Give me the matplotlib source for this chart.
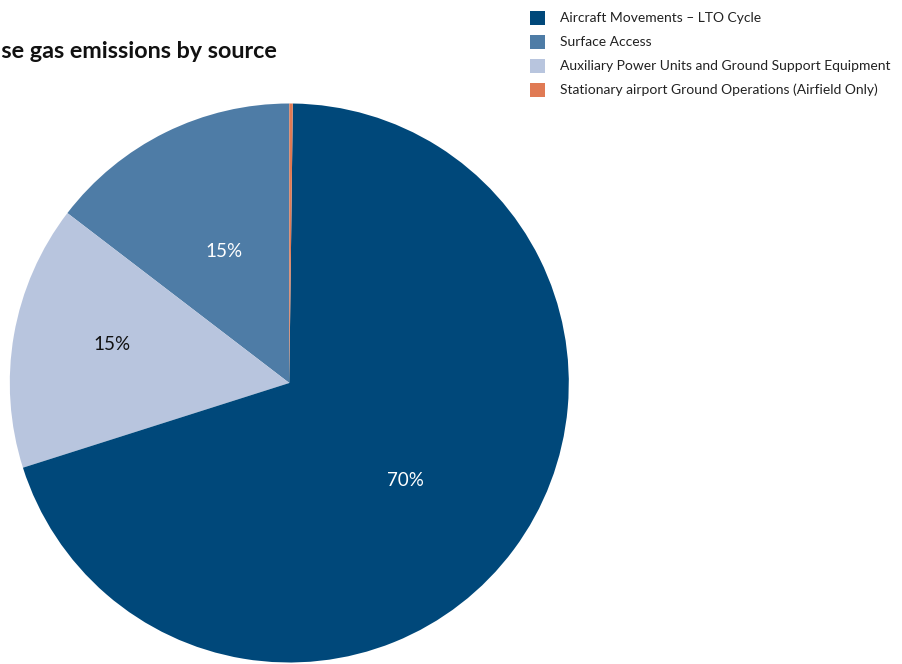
import matplotlib
matplotlib.use("Agg")
import matplotlib.pyplot as plt
import numpy as np
from matplotlib.patches import Rectangle

plt.rcParams['font.family'] = ['Lato', 'DejaVu Sans']

# Emission shares (%) by source, in legend order
categories = [
    "Aircraft Movements – LTO Cycle",
    "Surface Access",
    "Auxiliary Power Units and Ground Support Equipment",
    "Stationary airport Ground Operations (Airfield Only)",
]
shares = [69.9, 14.6, 15.3, 0.2]
colors = ["#00487A", "#4E7CA6", "#B8C5DE", "#E07A54"]
label_colors = ["white", "white", "#111111", "white"]
title = "Greenhouse gas emissions by source"

W, H = 902, 664
fig = plt.figure(figsize=(W / 100, H / 100), dpi=100)

# Pie drawn counter-clockwise from 12 o'clock: Surface, APU, Aircraft, Stationary
draw_order = [1, 2, 0, 3]
cx, cy, r = 289.3, 383.0, 279.5
ax = fig.add_axes([(cx - r) / W, (H - cy - r) / H, 2 * r / W, 2 * r / H])
wedges, _ = ax.pie([shares[i] for i in draw_order],
                   colors=[colors[i] for i in draw_order],
                   startangle=90, counterclock=True, radius=1.0,
                   wedgeprops=dict(linewidth=0))
ax.set_xlim(-1, 1)
ax.set_ylim(-1, 1)
ax.set_aspect('equal')
ax.axis('off')

# Percentage labels placed inside the wedges (radius fraction, angle nudge in degrees)
label_pos = {0: (0.543, -3.6), 1: (0.524, 0.0), 2: (0.649, -2.3)}
for w, i in zip(wedges, draw_order):
    if i not in label_pos:
        continue
    d, nudge = label_pos[i]
    mid = np.deg2rad((w.theta1 + w.theta2) / 2 + nudge)
    ax.text(d * np.cos(mid), d * np.sin(mid), f"{shares[i]:.0f}%",
            ha='center', va='center', fontsize=13.5, color=label_colors[i])

# Title (right-aligned, running off the left edge)
fig.text(277 / W, 1 - 51 / H, title, ha='right', va='center',
         fontsize=16.8, fontweight='bold', color='#111111')

# Legend
for k, (name, col) in enumerate(zip(categories, colors)):
    yc = 18 + 24 * k
    fig.patches.append(Rectangle((530 / W, 1 - (yc + 7) / H), 15 / W, 14 / H,
                                 transform=fig.transFigure, facecolor=col,
                                 edgecolor='none'))
    fig.text(560 / W, 1 - yc / H, name, ha='left', va='center',
             fontsize=10, color='#222222')

fig.savefig("out.png", dpi=100)
